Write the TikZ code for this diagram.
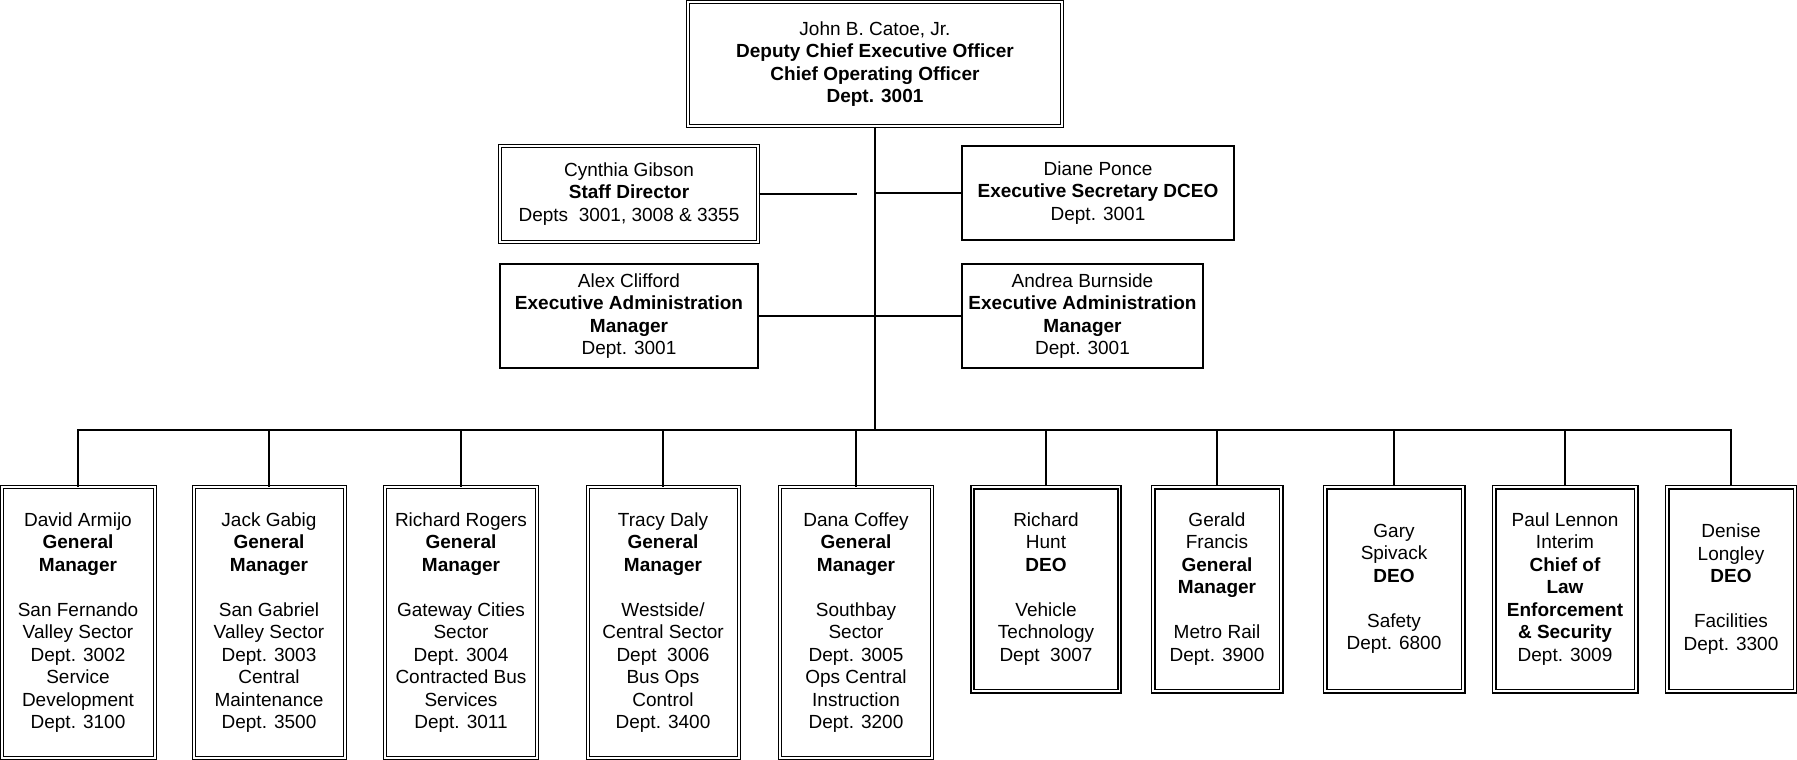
\documentclass[tikz,border=0pt]{standalone}
\usepackage{fontspec}
\setmainfont{Liberation Sans}
\begin{document}
\begin{tikzpicture}[x=1pt,y=-1pt,
  box/.style={draw, line width=1.2pt, align=center, inner sep=0pt, font=\fontsize{19}{22.5}\selectfont},
  dbox/.style={box, double, double distance=2pt, line width=1pt},
  hbox/.style={box, double, double distance=1.8pt, line width=1.6pt},
  tall/.style={minimum height=271pt},
  short/.style={minimum height=204pt},
  conn/.style={line width=1.7pt}]
\useasboundingbox (0,0) rectangle (1797,760);
% top
\node[dbox, minimum width=374pt, minimum height=124pt] (top) at (875,64)
 {John B. Catoe, Jr.\\ \textbf{Deputy Chief Executive Officer}\\ \textbf{Chief Operating Officer}\\ \textbf{Dept. 3001}};
% staff
\node[dbox, minimum width=258pt, minimum height=96pt] (cyn) at (629,194)
 {Cynthia Gibson\\ \textbf{Staff Director}\\ Depts\ \ 3001, 3008 \& 3355};
\node[box, minimum width=272pt, minimum height=94pt] (dia) at (1098,193)
 {Diane Ponce\\ \textbf{Executive Secretary DCEO}\\ Dept. 3001};
\node[box, minimum width=258pt, minimum height=104pt] (alex) at (629,316)
 {Alex Clifford\\ \textbf{Executive Administration}\\ \textbf{Manager}\\ Dept. 3001};
\node[box, minimum width=241pt, minimum height=104pt] (andrea) at (1082.5,316)
 {Andrea Burnside\\ \textbf{Executive Administration}\\ \textbf{Manager}\\ Dept. 3001};
% bottom row
\node[dbox, tall, minimum width=153pt] (b1) at (78,622.5)
 {David Armijo\\ \textbf{General}\\ \textbf{Manager}\\[22.5pt] San Fernando\\ Valley Sector\\ Dept. 3002\\ Service\\ Development\\ Dept. 3100};
\node[dbox, tall, minimum width=151pt] (b2) at (269,622.5)
 {Jack Gabig\\ \textbf{General}\\ \textbf{Manager}\\[22.5pt] San Gabriel\\ Valley Sector\\ Dept. 3003\\ Central\\ Maintenance\\ Dept. 3500};
\node[dbox, tall, minimum width=152pt] (b3) at (461,622.5)
 {Richard Rogers\\ \textbf{General}\\ \textbf{Manager}\\[22.5pt] Gateway Cities\\ Sector\\ Dept. 3004\\ Contracted Bus\\ Services\\ Dept. 3011};
\node[dbox, tall, minimum width=151pt] (b4) at (663,622.5)
 {Tracy Daly\\ \textbf{General}\\ \textbf{Manager}\\[22.5pt] Westside/\\ Central Sector\\ Dept\ \ 3006\\ Bus Ops\\ Control\\ Dept. 3400};
\node[dbox, tall, minimum width=152pt] (b5) at (856,622.5)
 {Dana Coffey\\ \textbf{General}\\ \textbf{Manager}\\[22.5pt] Southbay\\ Sector\\ Dept. 3005\\ Ops Central\\ Instruction\\ Dept. 3200};
\node[hbox, short, minimum width=147pt] (b6) at (1046,589)
 {Richard\\ Hunt\\ \textbf{DEO}\\[22.5pt] Vehicle\\ Technology\\ Dept\ \ 3007};
\node[hbox, short, minimum width=128pt] (b7) at (1217,589)
 {Gerald\\ Francis\\ \textbf{General}\\ \textbf{Manager}\\[22.5pt] Metro Rail\\ Dept. 3900};
\node[hbox, short, minimum width=138pt] (b8) at (1394,589)
 {Gary\\ Spivack\\ \textbf{DEO}\\[22.5pt] Safety\\ Dept. 6800};
\node[hbox, short, minimum width=142pt] (b9) at (1565,589)
 {Paul Lennon\\ Interim\\ \textbf{Chief of}\\ \textbf{Law}\\ \textbf{Enforcement}\\ \textbf{\& Security}\\ Dept. 3009};
\node[hbox, short, minimum width=128pt] (b10) at (1731,589)
 {Denise\\ Longley\\ \textbf{DEO}\\[22.5pt] Facilities\\ Dept. 3300};
% connectors
\coordinate (bus) at (875,430);
\coordinate (cyend) at (857,194);
\draw[conn] (top.south) -- (bus);
\draw[conn] (cyn.east) -- (cyend);
\draw[conn] (dia.west) -- (dia.west -| top.south);
\draw[conn] (alex.east) -- (andrea.west);
\foreach \b in {b1,b2,b3,b4,b5,b6,b7,b8,b9,b10}
  \draw[conn] (\b.north) |- (bus);
\end{tikzpicture}
\end{document}
